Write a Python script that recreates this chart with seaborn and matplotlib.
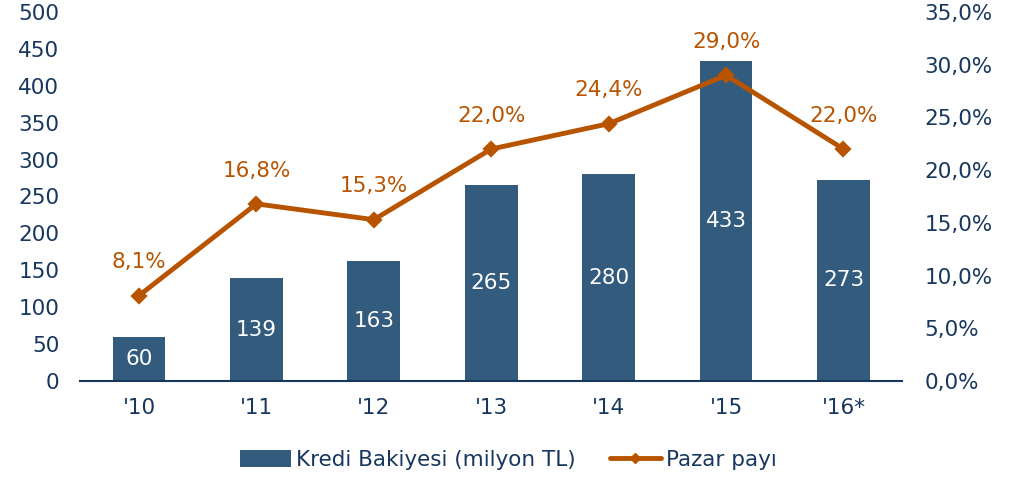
import matplotlib
matplotlib.use("Agg")
import matplotlib.pyplot as plt
from matplotlib.patches import Patch
from matplotlib.lines import Line2D
from matplotlib.ticker import FuncFormatter
import seaborn as sns
import pandas as pd

# Data
years = ["'10", "'11", "'12", "'13", "'14", "'15", "'16*"]
kredi = [60, 139, 163, 265, 280, 433, 273]
pazar = [8.1, 16.8, 15.3, 22.0, 24.4, 29.0, 22.0]

bar_color = "#335B7D"
line_color = "#B85400"
text_color = "#17375E"
fs = 15.5

sns.set_style("white")
plt.rcParams["font.family"] = ["DejaVu Sans"]

df = pd.DataFrame({"year": years, "kredi": kredi, "pazar": pazar})

fig = plt.figure(figsize=(10.16, 4.79), dpi=100)
ax = fig.add_axes([0.079, 0.2046, 0.809, 0.7704])

sns.barplot(data=df, x="year", y="kredi", color=bar_color, width=0.45,
            saturation=1, linewidth=0, ax=ax)
ax.set_ylim(0, 500)
ax.set_yticks(range(0, 501, 50))
ax.set_xlabel("")
ax.set_ylabel("")

# bar value labels (centered in bar)
for i, v in enumerate(kredi):
    ax.text(i, v / 2, str(v), ha="center", va="center", color="white",
            fontsize=fs)

ax2 = ax.twinx()
sns.pointplot(data=df, x="year", y="pazar", color=line_color, marker="D",
              markersize=6, linewidth=3.5, ax=ax2)
ax2.set_ylim(0, 35)
ax2.set_yticks(range(0, 36, 5))
ax2.yaxis.set_major_formatter(FuncFormatter(lambda v, p: f"{v:.1f}%".replace(".", ",")))
ax2.set_ylabel("")
ax2.set_xlabel("")
ax.set_xlim(-0.5, len(years) - 0.5)
ax2.set_xlim(-0.5, len(years) - 0.5)

for i, v in enumerate(pazar):
    ax2.annotate(f"{v:.1f}%".replace(".", ","), (i, v), xytext=(0, 24),
                 textcoords="offset points", ha="center", va="center",
                 color=line_color, fontsize=fs)

for a in (ax, ax2):
    for s in a.spines.values():
        s.set_visible(False)
    a.tick_params(axis="both", length=0, labelsize=fs, labelcolor=text_color)
ax.spines["bottom"].set_visible(True)
ax.spines["bottom"].set_color(text_color)
ax.spines["bottom"].set_linewidth(1.5)
ax.tick_params(axis="x", pad=12)
ax.tick_params(axis="y", pad=15)
ax2.tick_params(axis="y", pad=16)

handles = [
    Patch(facecolor=bar_color, edgecolor="none"),
    Line2D([0], [0], color=line_color, linewidth=3.5, marker="D", markersize=5),
]
leg = fig.legend(handles, ["Kredi Bakiyesi (milyon TL)", "Pazar payı"],
                 loc="center", bbox_to_anchor=(0.5, 0.04), ncol=2, frameon=False,
                 fontsize=fs, handlelength=2.4, handleheight=0.8, handletextpad=0.2,
                 columnspacing=1.6)
for t in leg.get_texts():
    t.set_color(text_color)

fig.savefig("out.png", dpi=100)
